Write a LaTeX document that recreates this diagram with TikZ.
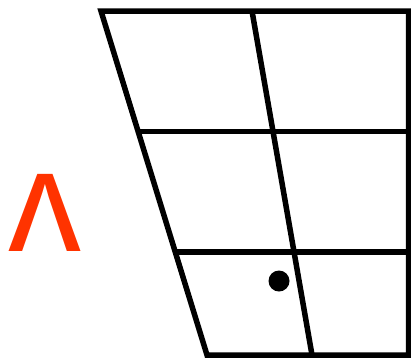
\documentclass[tikz,border=0pt]{standalone}
\usepackage{fontspec}
\newfontfamily\ipafont{Liberation Sans}
\definecolor{vowelred}{HTML}{FF3300}
\tikzset{gridline/.style={line width=5.5pt, black}}
\begin{document}
\begin{tikzpicture}[x=1pt,y=-1pt]
\useasboundingbox (0,0) rectangle (411,360);
\coordinate (tl) at (101,11);
\coordinate (tr) at (408.5,11);
\coordinate (br) at (408.5,355);
\coordinate (bl) at (207,355);
\coordinate (ml) at (138.5,131.5);
\coordinate (mr) at (408.5,131.5);
\coordinate (ll) at (176,252);
\coordinate (lr) at (408.5,252);
\coordinate (ct) at (252,11);
\coordinate (cb) at (312,355);
\draw[gridline] (tl) -- (tr) -- (br) -- (bl) -- cycle;
\draw[gridline] (ml) -- (mr);
\draw[gridline] (ll) -- (lr);
\draw[gridline] (ct) -- (cb);
\fill (279,281) circle (10.5);
\node[text=vowelred, font=\ipafont\fontsize{146}{146}\selectfont, inner sep=0pt, anchor=base] (v) at (45,251) {ʌ};
\end{tikzpicture}
\end{document}
